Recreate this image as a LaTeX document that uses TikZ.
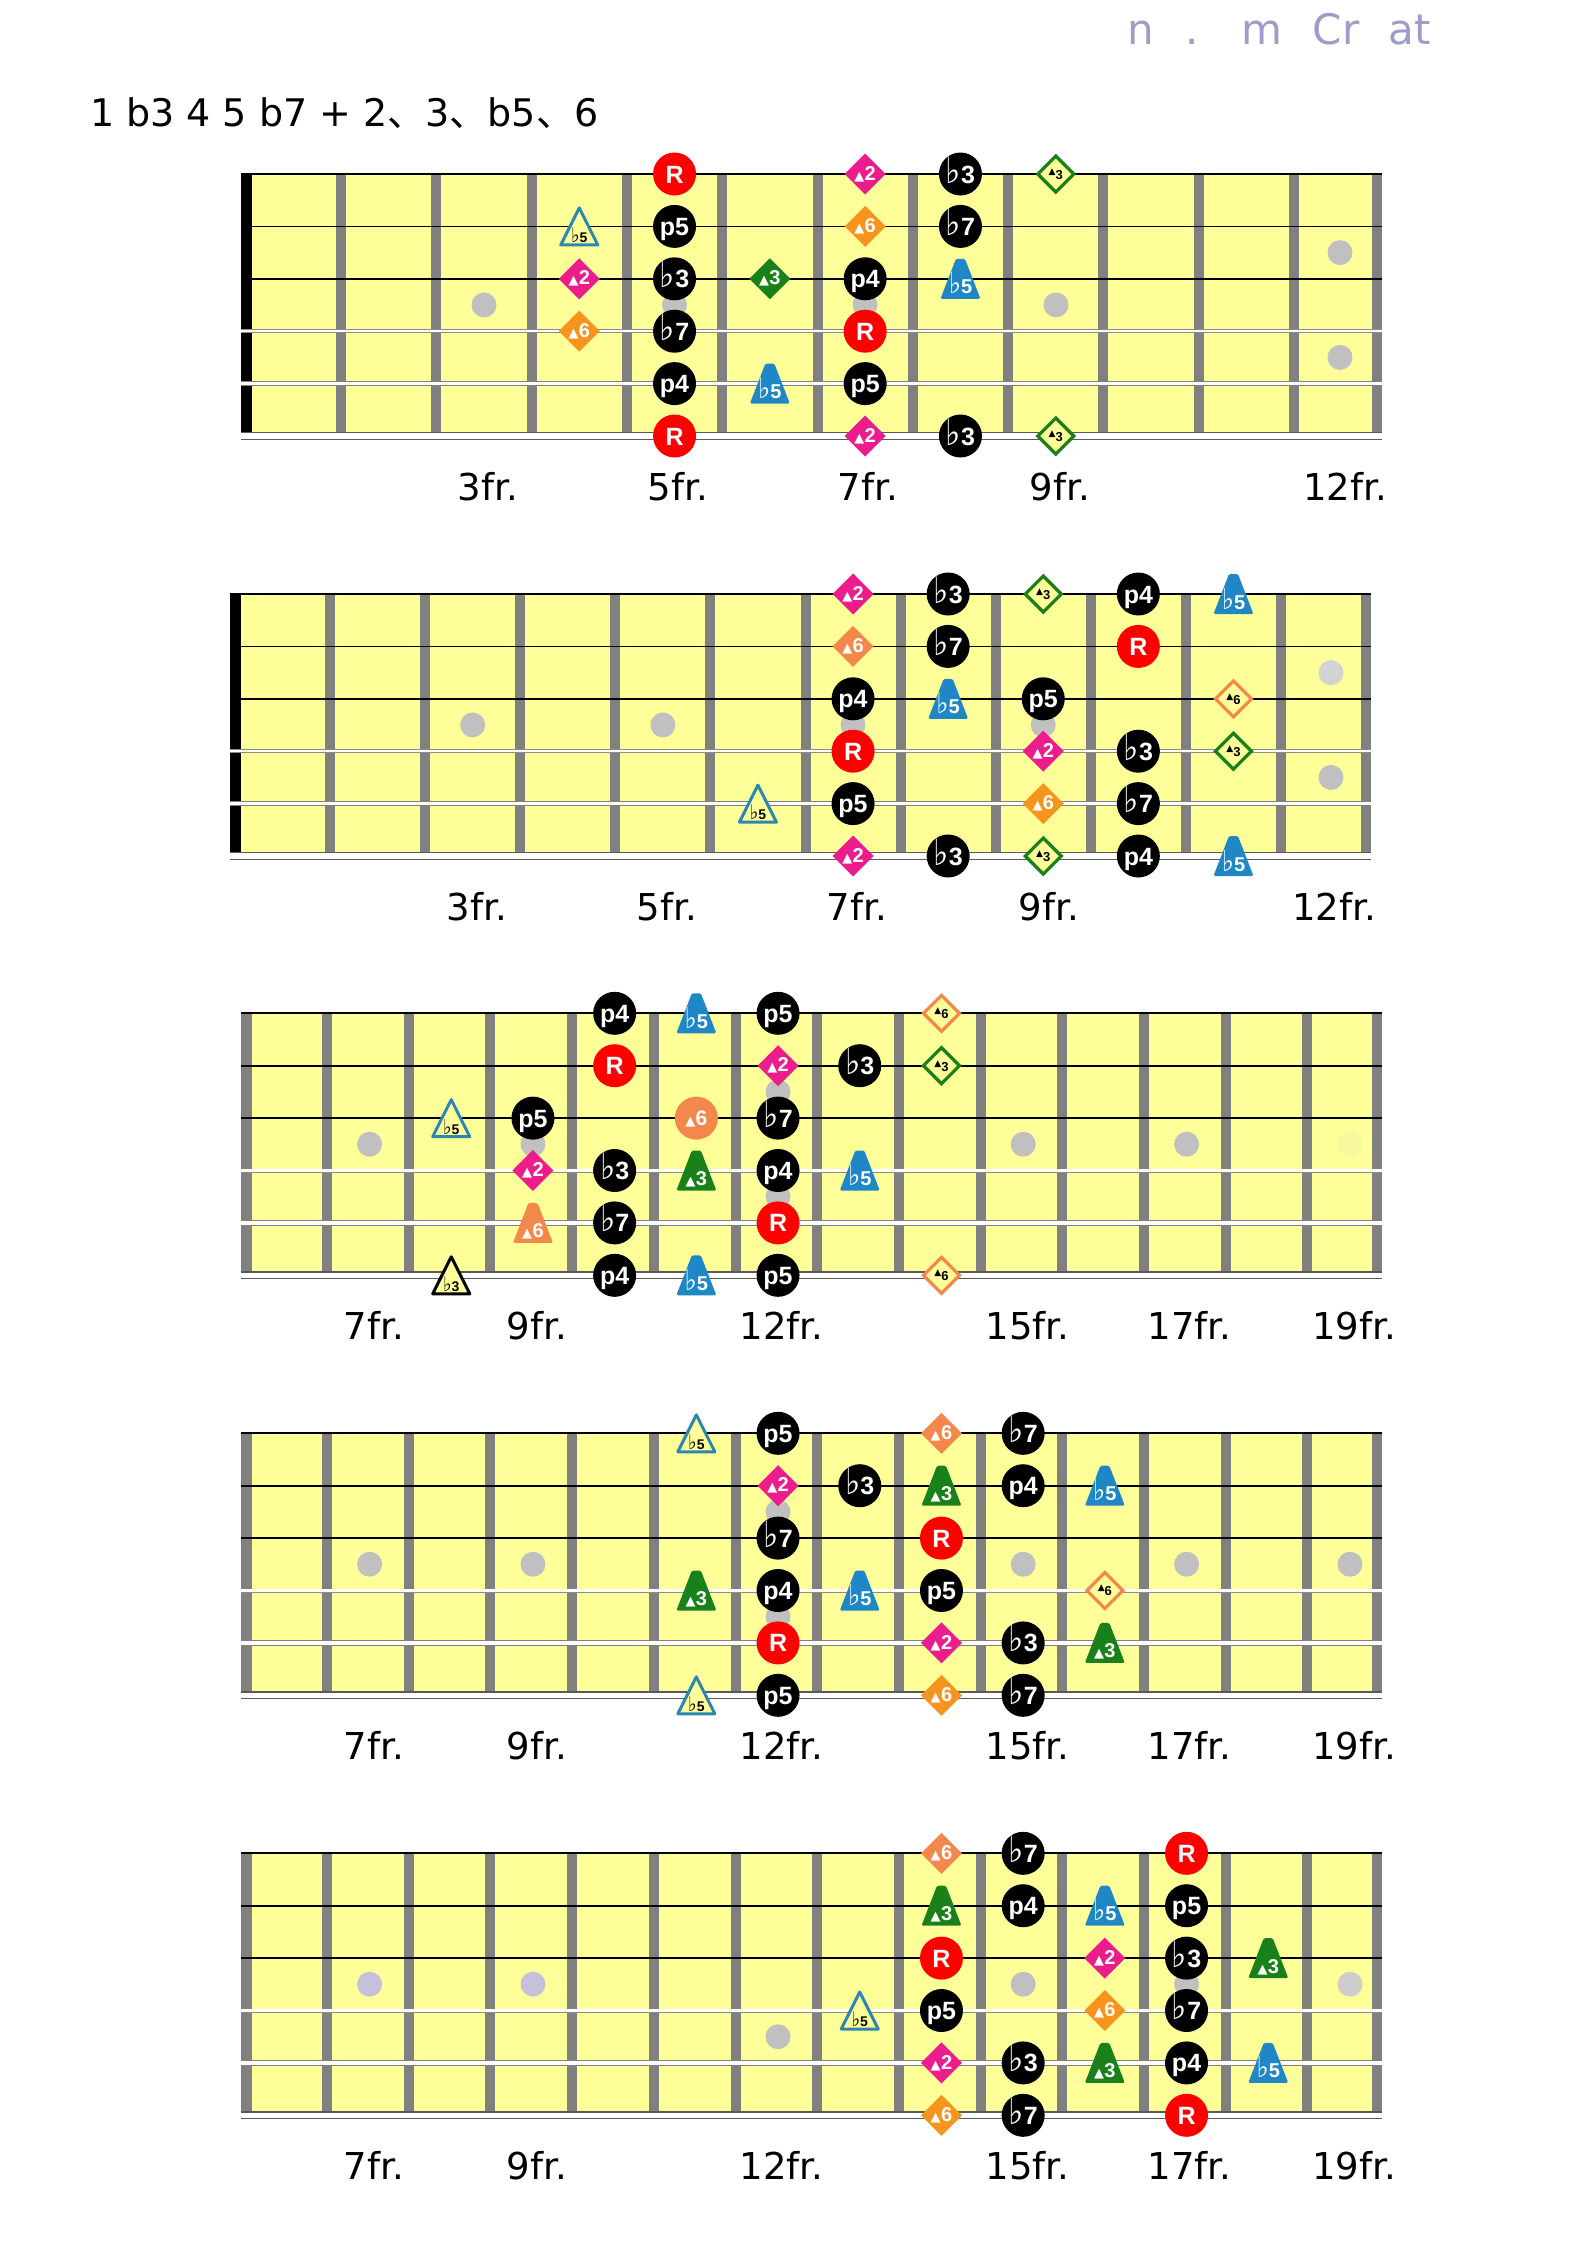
\documentclass[tikz,border=0pt]{standalone}
\usepackage{fontspec}
\setmainfont{DejaVu Sans}
\newfontfamily\labfont{Liberation Sans}
\newfontfamily\symfont{DejaVu Sans}
\newfontfamily\cjkfont{Noto Sans CJK JP}
\usetikzlibrary{shapes.geometric}
\definecolor{board}{HTML}{FFFF99}
\definecolor{fretc}{HTML}{808080}
\definecolor{dotc}{HTML}{C0C0C0}
\definecolor{dotl}{HTML}{C6C1DA}
\definecolor{redc}{HTML}{FF0000}
\definecolor{pinkc}{HTML}{EC1C8C}
\definecolor{orangec}{HTML}{F7941D}
\definecolor{salmonc}{HTML}{F4874B}
\definecolor{greenc}{HTML}{1A801A}
\definecolor{bluec}{HTML}{1F87C5}
\definecolor{blueoc}{HTML}{2B86B0}
\definecolor{wmc}{HTML}{9D9DC8}

\newcommand\Fl{\scalebox{1.3}[1.45]{\symfont\bfseries\iffontchar\font"266D\relax ♭\else\mdseries ♭\fi}}
\newcommand\Dt[1]{{\symfont\fontsize{#1}{#1}\selectfont ▲}}
\newcommand\Dl[1]{\Dt{13}\kern0.3pt#1}
\newcommand\Dls[1]{\raisebox{2.5pt}{\Dt{9}}\raisebox{-2.5pt}{#1}}

\newcommand\Nt[4]{\node[#1] (\Ddn f#2s#3) at ({\Dxo+\Ddx*(#2-\Dfo)},{\Dyo+52.4*(#3-1)}) {#4};}
\newcommand\Ntr[4]{%
 \coordinate (\Ddn f#2s#3) at ({\Dxo+\Ddx*(#2-\Dfo)},{\Dyo+52.4*(#3-1)});
 \fill[#1,rounded corners=1.5pt] ([shift={(-20pt,-20pt)}]\Ddn f#2s#3) -- ([shift={(20pt,-20pt)}]\Ddn f#2s#3) -- ([shift={(4.5pt,20pt)}]\Ddn f#2s#3) -- ([shift={(-4.5pt,20pt)}]\Ddn f#2s#3) -- cycle;
 \node[trtext] (\Ddn f#2s#3t) at ([yshift=-15pt]\Ddn f#2s#3) {#4};}
\newcommand\Nto[4]{%
 \coordinate (\Ddn f#2s#3) at ({\Dxo+\Ddx*(#2-\Dfo)},{\Dyo+52.4*(#3-1)});
 \filldraw[fill=board, draw=#1, line width=3pt, line join=round] ([shift={(-18.5pt,-18.5pt)}]\Ddn f#2s#3) -- ([shift={(18.5pt,-18.5pt)}]\Ddn f#2s#3) -- ([shift={(0pt,18.5pt)}]\Ddn f#2s#3) -- cycle;
 \node[totext] (\Ddn f#2s#3t) at ([yshift=-16pt]\Ddn f#2s#3) {#4};}

\newcommand\Board[7]{%
 \fill[board] (#2,#1) rectangle (#6,{#1+262});
 \foreach \i in {1,...,#5} {\fill[fretc] ({#3+#4*(\i-1)-5},#1) rectangle ({#3+#4*(\i-1)+5},{#1+262});}
 \fill[fretc] ({#6-10},#1) rectangle (#6,{#1+262});
 \fill[#7] (#2,#1) rectangle ({#2+11},{#1+264});
}
\newcommand\Strs[3]{%
 \draw[line width=2pt] (#2,#1) -- (#3,#1);
 \draw[line width=1.6pt] (#2,{#1+52.4}) -- (#3,{#1+52.4});
 \draw[line width=1.6pt] (#2,{#1+104.8}) -- (#3,{#1+104.8});
 \draw[line width=0.9pt, draw=black!45, double=white, double distance=2.2pt] (#2,{#1+157.2}) -- (#3,{#1+157.2});
 \draw[line width=1pt, draw=black!50, double=white, double distance=3.6pt] (#2,{#1+209.6}) -- (#3,{#1+209.6});
 \draw[line width=1.2pt, draw=black!65, double=white, double distance=5.6pt] (#2,{#1+262}) -- (#3,{#1+262});
}
\newcommand\Fdot[3][dotc]{\fill[#1] (#2,#3) circle[radius=12.5pt];}

\tikzset{
 every node/.style={inner sep=0pt, outer sep=0pt},
 circbase/.style={circle, minimum size=43pt, text=white, font=\labfont\bfseries\fontsize{25}{25}\selectfont, text height=18pt, text depth=0pt},
 nR/.style={circbase, fill=redc},
 nBK/.style={circbase, fill=black},
 nORc/.style={circbase, fill=salmonc, font=\labfont\bfseries\fontsize{21}{21}\selectfont, text height=15pt},
 diabase/.style={diamond, minimum width=41pt, minimum height=41pt, text=white, font=\labfont\bfseries\fontsize{20}{20}\selectfont},
 nPK/.style={diabase, fill=pinkc},
 nOR/.style={diabase, fill=orangec},
 nORs/.style={diabase, fill=salmonc},
 nGRd/.style={diabase, fill=greenc},
 diao/.style={diamond, minimum width=36pt, minimum height=36pt, fill=board, line width=3.2pt, text=black, font=\labfont\bfseries\fontsize{13}{13}\selectfont},
 nGRo/.style={diao, draw=greenc},
 nORo/.style={diao, draw=salmonc},
 trtext/.style={anchor=base, text=white, font=\labfont\bfseries\fontsize{20}{20}\selectfont},
 totext/.style={anchor=base, text=black, font=\labfont\bfseries\fontsize{14}{14}\selectfont},
 flab/.style={anchor=base, font=\fontsize{37}{40}\selectfont},
 wm/.style={anchor=base, text=wmc, font=\fontsize{42}{42}\selectfont},
}

\begin{document}
\begin{tikzpicture}[x=1pt,y=-1pt]
\useasboundingbox (0,0) rectangle (1586,2244);
\fill[white] (0,0) rectangle (1586,2244);

% watermark and title
\node[wm] (wm1) at (1141,44) {n};
\node[wm] (wm2) at (1192,44) {.};
\node[wm] (wm3) at (1262,44) {m};
\node[wm] (wm4) at (1336,44) {Cr};
\node[wm] (wm5) at (1410,44) {at};
\node[anchor=base west, font=\fontsize{38}{40}\selectfont] (title) at (90,126) {1 b3 4 5 b7 + 2{\cjkfont 、}3{\cjkfont 、}b5{\cjkfont 、}6};

% ===== Diagram 1 =====
\Board{174}{241}{341}{95.3}{11}{1382}{black}
\Fdot{484}{304.9}\Fdot{674.5}{304.9}\Fdot{865}{304.9}\Fdot{1056}{304.9}\Fdot{1340}{252.6}\Fdot{1340}{357.4}
\Strs{174}{241}{1382}
\def\Ddn{a}\def\Dxo{293.35}\def\Ddx{95.3}\def\Dfo{1}\def\Dyo{174}
\Nt{nR}{5}{1}{R}
\Nt{nBK}{5}{2}{p5}
\Nt{nBK}{5}{3}{\Fl3}
\Nt{nBK}{5}{4}{\Fl7}
\Nt{nBK}{5}{5}{p4}
\Nt{nR}{5}{6}{R}
\Nto{blueoc}{4}{2}{\Fl5}
\Nt{nPK}{4}{3}{\Dl2}
\Nt{nOR}{4}{4}{\Dl6}
\Nt{nGRd}{6}{3}{\Dl3}
\Ntr{bluec}{6}{5}{\Fl5}
\Nt{nPK}{7}{1}{\Dl2}
\Nt{nOR}{7}{2}{\Dl6}
\Nt{nBK}{7}{3}{p4}
\Nt{nR}{7}{4}{R}
\Nt{nBK}{7}{5}{p5}
\Nt{nPK}{7}{6}{\Dl2}
\Nt{nBK}{8}{1}{\Fl3}
\Nt{nBK}{8}{2}{\Fl7}
\Ntr{bluec}{8}{3}{\Fl5}
\Nt{nBK}{8}{6}{\Fl3}
\Nt{nGRo}{9}{1}{\Dls3}
\Nt{nGRo}{9}{6}{\Dls3}
\node[flab] (a3fr) at (488,500) {3fr.};
\node[flab] (a5fr) at (678,500) {5fr.};
\node[flab] (a7fr) at (868,500) {7fr.};
\node[flab] (a9fr) at (1060,500) {9fr.};
\node[flab] (a12fr) at (1345,500) {12fr.};

% ===== Diagram 2 =====
\Board{594}{230}{330}{95.1}{11}{1371}{black}
\Fdot{472.7}{724.9}\Fdot{662.9}{724.9}\Fdot{853}{724.9}\Fdot{1043.2}{724.9}\Fdot[dotc!70]{1331}{672.6}\Fdot{1331}{777.4}
\Strs{594}{230}{1371}
\def\Ddn{b}\def\Dxo{282.45}\def\Ddx{95.1}\def\Dfo{1}\def\Dyo{594}
\Nt{nPK}{7}{1}{\Dl2}
\Nt{nBK}{8}{1}{\Fl3}
\Nt{nGRo}{9}{1}{\Dls3}
\Nt{nBK}{10}{1}{p4}
\Ntr{bluec}{11}{1}{\Fl5}
\Nt{nORs}{7}{2}{\Dl6}
\Nt{nBK}{8}{2}{\Fl7}
\Nt{nR}{10}{2}{R}
\Nt{nBK}{7}{3}{p4}
\Ntr{bluec}{8}{3}{\Fl5}
\Nt{nBK}{9}{3}{p5}
\Nt{nORo}{11}{3}{\Dls6}
\Nt{nR}{7}{4}{R}
\Nt{nPK}{9}{4}{\Dl2}
\Nt{nBK}{10}{4}{\Fl3}
\Nt{nGRo}{11}{4}{\Dls3}
\Nto{blueoc}{6}{5}{\Fl5}
\Nt{nBK}{7}{5}{p5}
\Nt{nOR}{9}{5}{\Dl6}
\Nt{nBK}{10}{5}{\Fl7}
\Nt{nPK}{7}{6}{\Dl2}
\Nt{nBK}{8}{6}{\Fl3}
\Nt{nGRo}{9}{6}{\Dls3}
\Nt{nBK}{10}{6}{p4}
\Ntr{bluec}{11}{6}{\Fl5}
\node[flab] (b3fr) at (477,920) {3fr.};
\node[flab] (b5fr) at (667,920) {5fr.};
\node[flab] (b7fr) at (857,920) {7fr.};
\node[flab] (b9fr) at (1049,920) {9fr.};
\node[flab] (b12fr) at (1334,920) {12fr.};

% ===== Diagram 3 =====
\Board{1013.3}{241}{327}{81.7}{13}{1382}{fretc}
\Fdot{369.6}{1144.2}\Fdot{533}{1144.2}\Fdot{778}{1091.9}\Fdot{778}{1196.7}\Fdot{1023.2}{1144.2}\Fdot{1186.6}{1144.2}\Fdot[dotc!12!board]{1350}{1144.2}
\Strs{1013.3}{241}{1382}
\def\Ddn{c}\def\Dxo{287.85}\def\Ddx{81.7}\def\Dfo{6}\def\Dyo{1013.3}
\Nt{nBK}{10}{1}{p4}
\Ntr{bluec}{11}{1}{\Fl5}
\Nt{nBK}{12}{1}{p5}
\Nt{nORo}{14}{1}{\Dls6}
\Nt{nR}{10}{2}{R}
\Nt{nPK}{12}{2}{\Dl2}
\Nt{nBK}{13}{2}{\Fl3}
\Nt{nGRo}{14}{2}{\Dls3}
\Nto{blueoc}{8}{3}{\Fl5}
\Nt{nBK}{9}{3}{p5}
\Nt{nORc}{11}{3}{\Dl6}
\Nt{nBK}{12}{3}{\Fl7}
\Nt{nPK}{9}{4}{\Dl2}
\Nt{nBK}{10}{4}{\Fl3}
\Ntr{greenc}{11}{4}{\Dl3}
\Nt{nBK}{12}{4}{p4}
\Ntr{bluec}{13}{4}{\Fl5}
\Ntr{salmonc}{9}{5}{\Dl6}
\Nt{nBK}{10}{5}{\Fl7}
\Nt{nR}{12}{5}{R}
\Nto{black}{8}{6}{\Fl3}
\Nt{nBK}{10}{6}{p4}
\Ntr{bluec}{11}{6}{\Fl5}
\Nt{nBK}{12}{6}{p5}
\Nt{nORo}{14}{6}{\Dls6}
\node[flab] (c7fr) at (374,1339.3) {7fr.};
\node[flab] (c9fr) at (537,1339.3) {9fr.};
\node[flab] (c12fr) at (781.5,1339.3) {12fr.};
\node[flab] (c15fr) at (1027.7,1339.3) {15fr.};
\node[flab] (c17fr) at (1189.5,1339.3) {17fr.};
\node[flab] (c19fr) at (1354,1339.3) {19fr.};

% ===== Diagram 4 =====
\Board{1433.3}{241}{327}{81.7}{13}{1382}{fretc}
\Fdot{369.6}{1564.2}\Fdot{533}{1564.2}\Fdot{778}{1511.9}\Fdot{778}{1616.7}\Fdot{1023.2}{1564.2}\Fdot{1186.6}{1564.2}\Fdot{1350}{1564.2}
\Strs{1433.3}{241}{1382}
\def\Ddn{d}\def\Dxo{287.85}\def\Ddx{81.7}\def\Dfo{6}\def\Dyo{1433.3}
\Nto{blueoc}{11}{1}{\Fl5}
\Nt{nBK}{12}{1}{p5}
\Nt{nORs}{14}{1}{\Dl6}
\Nt{nBK}{15}{1}{\Fl7}
\Nt{nPK}{12}{2}{\Dl2}
\Nt{nBK}{13}{2}{\Fl3}
\Ntr{greenc}{14}{2}{\Dl3}
\Nt{nBK}{15}{2}{p4}
\Ntr{bluec}{16}{2}{\Fl5}
\Nt{nBK}{12}{3}{\Fl7}
\Nt{nR}{14}{3}{R}
\Ntr{greenc}{11}{4}{\Dl3}
\Nt{nBK}{12}{4}{p4}
\Ntr{bluec}{13}{4}{\Fl5}
\Nt{nBK}{14}{4}{p5}
\Nt{nORo}{16}{4}{\Dls6}
\Nt{nR}{12}{5}{R}
\Nt{nPK}{14}{5}{\Dl2}
\Nt{nBK}{15}{5}{\Fl3}
\Ntr{greenc}{16}{5}{\Dl3}
\Nto{blueoc}{11}{6}{\Fl5}
\Nt{nBK}{12}{6}{p5}
\Nt{nOR}{14}{6}{\Dl6}
\Nt{nBK}{15}{6}{\Fl7}
\node[flab] (d7fr) at (374,1759.3) {7fr.};
\node[flab] (d9fr) at (537,1759.3) {9fr.};
\node[flab] (d12fr) at (781.5,1759.3) {12fr.};
\node[flab] (d15fr) at (1027.7,1759.3) {15fr.};
\node[flab] (d17fr) at (1189.5,1759.3) {17fr.};
\node[flab] (d19fr) at (1354,1759.3) {19fr.};

% ===== Diagram 5 =====
\Board{1853.3}{241}{327}{81.7}{13}{1382}{fretc}
\Fdot[dotl]{369.6}{1984.2}\Fdot[dotl]{533}{1984.2}\Fdot{778}{2036.7}\Fdot{1023.2}{1984.2}\Fdot{1186.6}{1984.2}\Fdot[dotc!80!white]{1350}{1984.2}
\Strs{1853.3}{241}{1382}
\def\Ddn{e}\def\Dxo{287.85}\def\Ddx{81.7}\def\Dfo{6}\def\Dyo{1853.3}
\Nt{nORs}{14}{1}{\Dl6}
\Nt{nBK}{15}{1}{\Fl7}
\Nt{nR}{17}{1}{R}
\Ntr{greenc}{14}{2}{\Dl3}
\Nt{nBK}{15}{2}{p4}
\Ntr{bluec}{16}{2}{\Fl5}
\Nt{nBK}{17}{2}{p5}
\Nt{nR}{14}{3}{R}
\Nt{nPK}{16}{3}{\Dl2}
\Nt{nBK}{17}{3}{\Fl3}
\Ntr{greenc}{18}{3}{\Dl3}
\Nto{blueoc}{13}{4}{\Fl5}
\Nt{nBK}{14}{4}{p5}
\Nt{nOR}{16}{4}{\Dl6}
\Nt{nBK}{17}{4}{\Fl7}
\Nt{nPK}{14}{5}{\Dl2}
\Nt{nBK}{15}{5}{\Fl3}
\Ntr{greenc}{16}{5}{\Dl3}
\Nt{nBK}{17}{5}{p4}
\Ntr{bluec}{18}{5}{\Fl5}
\Nt{nOR}{14}{6}{\Dl6}
\Nt{nBK}{15}{6}{\Fl7}
\Nt{nR}{17}{6}{R}
\node[flab] (e7fr) at (374,2179.3) {7fr.};
\node[flab] (e9fr) at (537,2179.3) {9fr.};
\node[flab] (e12fr) at (781.5,2179.3) {12fr.};
\node[flab] (e15fr) at (1027.7,2179.3) {15fr.};
\node[flab] (e17fr) at (1189.5,2179.3) {17fr.};
\node[flab] (e19fr) at (1354,2179.3) {19fr.};
\end{tikzpicture}
\end{document}
